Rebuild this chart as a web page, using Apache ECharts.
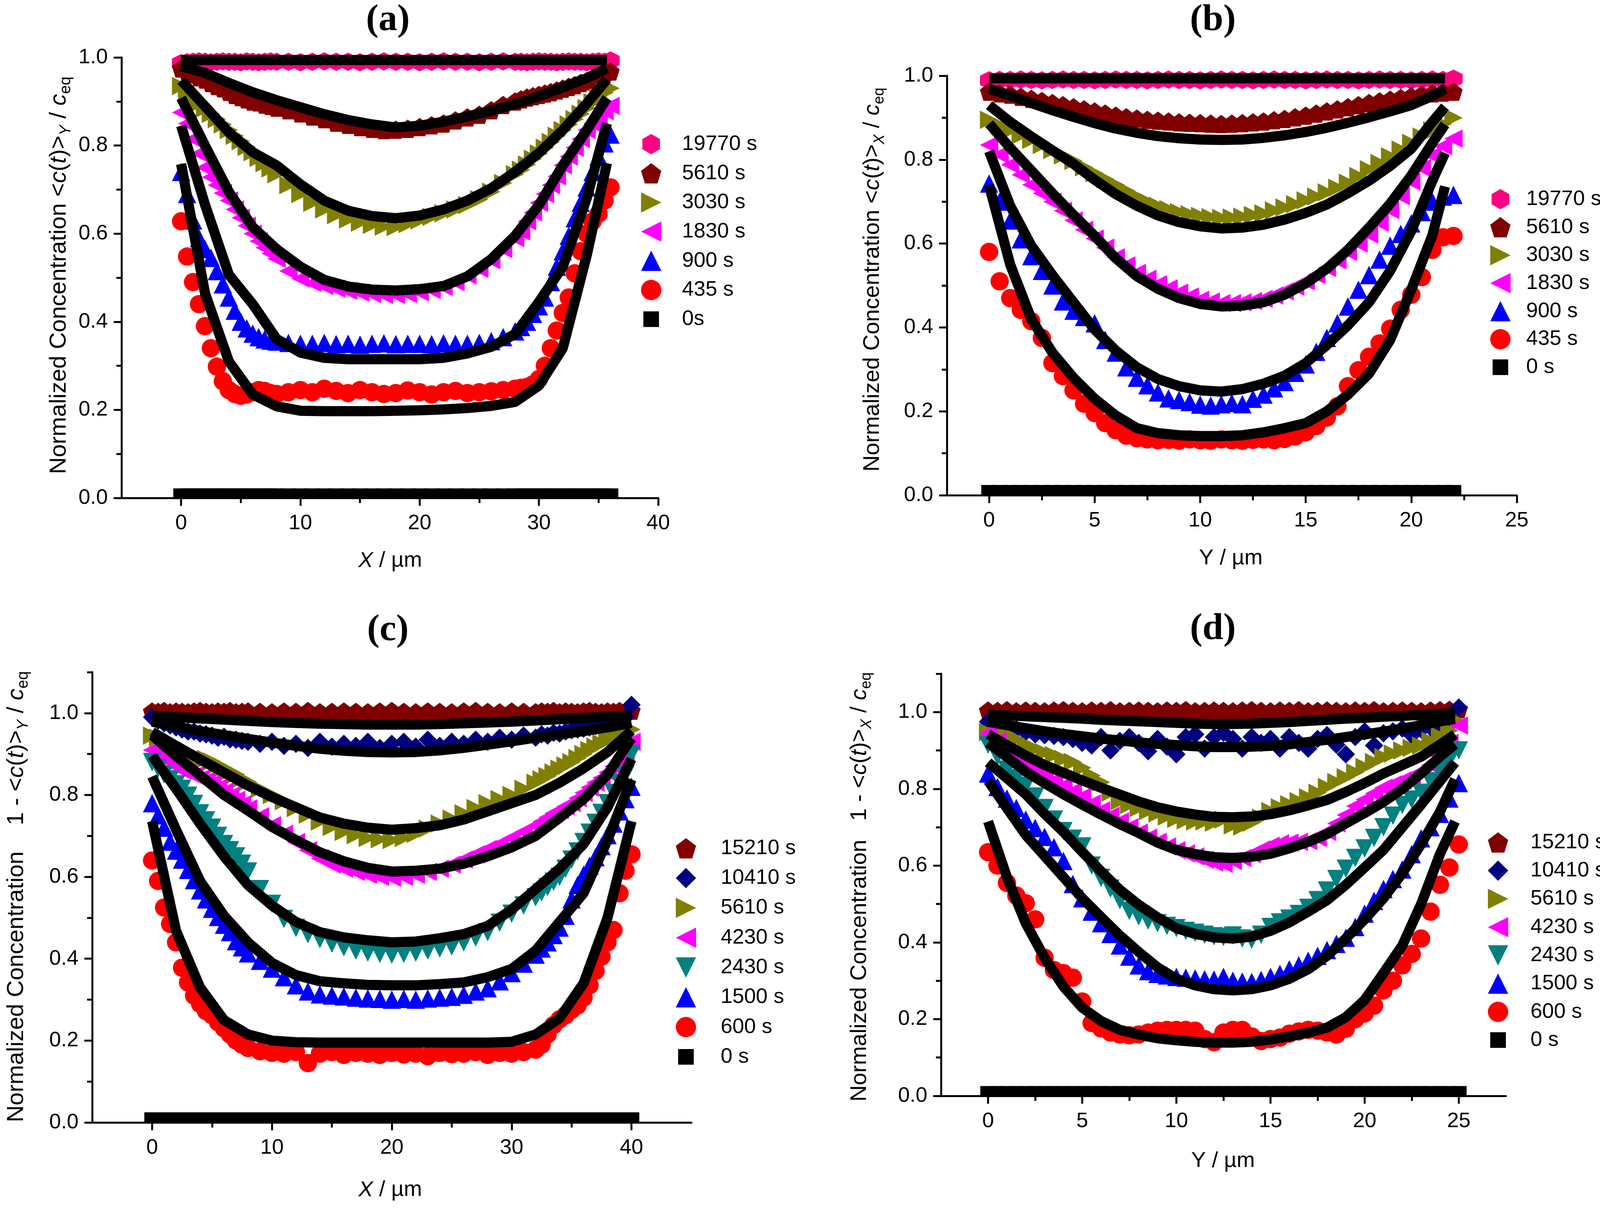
<!DOCTYPE html>
<html>
<head>
<meta charset="utf-8">
<script src="https://cdn.jsdelivr.net/npm/echarts@6/dist/echarts.min.js"></script>
<style>
html,body{margin:0;padding:0;background:#fff;overflow:hidden}
#main{width:4132px;height:3093px}
</style>
</head>
<body>
<div id="main"></div>
<script>
// ---- panel (a): profile along X, averaged over Y ----
const xsA = [0,0.5,1,1.5,2,2.5,3,3.5,4,4.5,5,5.5,6,6.5,7,7.5,8,
  9,10,11,12,13,14,15,16,17,18,19,20,21,22,23,24,25,26,27,
  28,28.5,29,29.5,30,30.5,31,31.5,32,32.5,33,33.5,34,34.5,35,35.5,36];
const a19770 = [0.987,0.989,0.99,0.991,0.99,0.989,0.99,0.991,0.99,0.99,0.989,0.991,0.99,0.989,0.99,0.991,0.99,
  0.99,0.989,0.99,0.991,0.99,0.99,0.989,0.99,0.991,0.99,0.99,0.989,0.99,0.991,0.99,0.99,0.989,0.99,0.991,
  0.99,0.99,0.989,0.99,0.991,0.99,0.99,0.989,0.99,0.991,0.99,0.99,0.989,0.99,0.991,0.99,0.993];
const a5610 = [0.975,0.968,0.962,0.955,0.95,0.942,0.935,0.93,0.922,0.915,0.91,0.905,0.9,0.898,0.893,0.89,0.886,
  0.88,0.873,0.866,0.86,0.852,0.847,0.842,0.838,0.835,0.836,0.838,0.842,0.846,0.85,0.857,0.864,0.87,0.88,0.892,
  0.9,0.905,0.909,0.912,0.915,0.918,0.921,0.925,0.929,0.933,0.937,0.942,0.946,0.951,0.956,0.962,0.968];
const a3030 = [0.935,0.922,0.91,0.896,0.884,0.872,0.86,0.848,0.835,0.822,0.81,0.797,0.785,0.772,0.76,0.748,0.735,
  0.71,0.69,0.67,0.655,0.642,0.632,0.625,0.62,0.616,0.615,0.622,0.63,0.638,0.646,0.655,0.665,0.678,0.695,0.715,
  0.735,0.745,0.757,0.77,0.782,0.795,0.808,0.822,0.835,0.848,0.86,0.872,0.885,0.898,0.91,0.92,0.93];
const a1830 = [0.875,0.85,0.815,0.782,0.75,0.728,0.71,0.692,0.675,0.655,0.636,0.618,0.6,0.583,0.568,0.555,0.543,
  0.515,0.498,0.488,0.481,0.475,0.47,0.466,0.463,0.461,0.461,0.463,0.467,0.472,0.479,0.49,0.505,0.52,0.54,0.565,
  0.59,0.605,0.628,0.648,0.67,0.69,0.71,0.73,0.755,0.775,0.795,0.815,0.835,0.85,0.865,0.878,0.89];
const a900 = [0.74,0.69,0.63,0.59,0.565,0.545,0.515,0.485,0.455,0.425,0.4,0.385,0.373,0.365,0.36,0.357,0.355,
  0.352,0.35,0.35,0.352,0.349,0.35,0.348,0.35,0.351,0.349,0.35,0.35,0.349,0.351,0.35,0.35,0.352,0.356,0.365,
  0.378,0.388,0.4,0.418,0.435,0.455,0.49,0.525,0.56,0.595,0.635,0.67,0.705,0.74,0.775,0.805,0.825];
const a435 = [0.628,0.548,0.49,0.44,0.39,0.34,0.298,0.265,0.245,0.236,0.232,0.235,0.24,0.245,0.243,0.238,0.236,
  0.24,0.245,0.24,0.248,0.243,0.238,0.245,0.24,0.236,0.238,0.244,0.24,0.235,0.24,0.243,0.238,0.24,0.242,0.245,
  0.248,0.25,0.252,0.258,0.27,0.3,0.34,0.38,0.42,0.455,0.51,0.56,0.6,0.628,0.645,0.675,0.705];
const a0 = [0.01,0.01,0.01,0.01,0.01,0.01,0.01,0.01,0.01,0.01,0.01,0.01,0.01,0.01,0.01,0.01,0.01,
  0.01,0.01,0.01,0.01,0.01,0.01,0.01,0.01,0.01,0.01,0.01,0.01,0.01,0.01,0.01,0.01,0.01,0.01,0.01,
  0.01,0.01,0.01,0.01,0.01,0.01,0.01,0.01,0.01,0.01,0.01,0.01,0.01,0.01,0.01,0.01,0.01];
const fitXA = [0,2,4,6,8,10,12,14,16,18,20,22,24,26,28,30,32,34,35.7];
const fA19770 = [0.994,0.994,0.994,0.994,0.994,0.994,0.994,0.994,0.994,0.994,0.994,0.994,0.994,0.994,0.994,0.994,0.994,0.994,0.994];
const fA5610 = [0.98,0.965,0.942,0.921,0.903,0.887,0.871,0.858,0.848,0.841,0.845,0.854,0.866,0.879,0.894,0.912,0.932,0.953,0.975];
const fA3030 = [0.948,0.889,0.83,0.785,0.755,0.712,0.675,0.652,0.64,0.635,0.641,0.655,0.675,0.703,0.74,0.783,0.835,0.895,0.95];
const fA1830 = [0.908,0.8,0.695,0.615,0.565,0.525,0.495,0.48,0.473,0.471,0.474,0.481,0.503,0.542,0.595,0.665,0.755,0.835,0.908];
const fA900 = [0.845,0.666,0.507,0.44,0.361,0.33,0.318,0.315,0.315,0.315,0.315,0.318,0.328,0.343,0.372,0.445,0.525,0.68,0.85];
const fA435 = [0.758,0.465,0.31,0.235,0.208,0.198,0.197,0.197,0.197,0.198,0.199,0.201,0.204,0.209,0.218,0.255,0.34,0.55,0.76];

// ---- panel (b): profile along Y, averaged over X ----
const xsB = [0,0.5,1,1.5,2,2.5,3,3.5,4,4.5,5,5.5,6,6.5,7,7.5,8,8.5,9,9.5,
  10,10.5,11,11.5,12,12.5,13,13.5,14,14.5,15,15.5,16,16.5,17,17.5,18,18.5,19,19.5,20,20.5,21,21.5,22];
const b19770 = [0.989,0.99,0.99,0.991,0.99,0.989,0.99,0.991,0.99,0.99,
  0.989,0.99,0.991,0.99,0.99,0.989,0.99,0.991,0.99,0.99,
  0.989,0.99,0.991,0.99,0.99,0.989,0.99,0.991,0.99,0.99,
  0.989,0.99,0.991,0.99,0.99,0.989,0.99,0.991,0.99,0.99,
  0.989,0.99,0.991,0.99,0.993];
const b5610 = [0.962,0.958,0.955,0.95,0.945,0.94,0.935,0.93,0.925,0.92,
  0.915,0.91,0.905,0.901,0.898,0.895,0.893,0.891,0.889,0.888,
  0.887,0.886,0.885,0.886,0.887,0.889,0.891,0.894,0.897,0.901,
  0.905,0.91,0.915,0.92,0.925,0.93,0.935,0.939,0.943,0.947,
  0.951,0.955,0.958,0.96,0.962];
const b3030 = [0.895,0.882,0.87,0.858,0.847,0.835,0.823,0.81,0.797,0.782,
  0.768,0.754,0.74,0.726,0.712,0.7,0.69,0.682,0.675,0.67,
  0.666,0.663,0.661,0.662,0.664,0.668,0.672,0.679,0.686,0.694,
  0.703,0.712,0.722,0.733,0.745,0.761,0.777,0.792,0.808,0.824,
  0.84,0.855,0.87,0.885,0.9];
const b1830 = [0.835,0.812,0.788,0.764,0.74,0.72,0.7,0.678,0.655,0.633,
  0.612,0.59,0.567,0.548,0.53,0.516,0.503,0.493,0.483,0.474,
  0.466,0.462,0.458,0.458,0.46,0.463,0.468,0.476,0.486,0.497,
  0.51,0.525,0.542,0.56,0.58,0.6,0.622,0.65,0.68,0.713,
  0.748,0.78,0.81,0.832,0.85];
const b900 = [0.743,0.7,0.655,0.61,0.57,0.535,0.5,0.462,0.44,0.425,
  0.41,0.37,0.34,0.305,0.28,0.262,0.245,0.231,0.227,0.222,
  0.216,0.214,0.217,0.22,0.217,0.23,0.24,0.255,0.27,0.292,
  0.312,0.342,0.375,0.41,0.45,0.49,0.525,0.562,0.595,0.623,
  0.648,0.675,0.7,0.712,0.716];
const b435 = [0.58,0.51,0.47,0.442,0.415,0.375,0.315,0.284,0.25,0.218,
  0.196,0.172,0.155,0.142,0.136,0.133,0.131,0.132,0.13,0.133,
  0.131,0.13,0.133,0.131,0.13,0.132,0.133,0.131,0.134,0.14,
  0.15,0.165,0.185,0.212,0.26,0.298,0.33,0.362,0.397,0.442,
  0.478,0.52,0.585,0.615,0.618];
const b0 = [0.012,0.012,0.012,0.012,0.012,0.012,0.012,0.012,0.012,0.012,
  0.012,0.012,0.012,0.012,0.012,0.012,0.012,0.012,0.012,0.012,
  0.012,0.012,0.012,0.012,0.012,0.012,0.012,0.012,0.012,0.012,
  0.012,0.012,0.012,0.012,0.012,0.012,0.012,0.012,0.012,0.012,
  0.012,0.012,0.012,0.012,0.012];
const fitXB = [0,1,2,3,4,5,6,7,8,9,10,11,12,13,14,15,16,17,18,19,20,21,21.6];
const fB19770 = [0.994,0.994,0.994,0.994,0.994,0.994,0.994,0.994,0.994,0.994,0.994,0.994,0.994,0.994,0.994,0.994,0.994,0.994,0.994,0.994,0.994,0.994,0.994];
const fB5610 = [0.969,0.953,0.935,0.918,0.902,0.887,0.874,0.864,0.856,0.851,0.848,0.847,0.848,0.852,0.858,0.866,0.876,0.888,0.901,0.915,0.93,0.952,0.969];
const fB3030 = [0.93,0.89,0.855,0.822,0.79,0.752,0.718,0.69,0.667,0.651,0.641,0.636,0.638,0.645,0.657,0.673,0.693,0.72,0.75,0.785,0.826,0.89,0.926];
const fB1830 = [0.886,0.828,0.774,0.72,0.668,0.618,0.565,0.522,0.492,0.47,0.456,0.45,0.452,0.46,0.478,0.505,0.54,0.585,0.638,0.695,0.762,0.84,0.884];
const fB900 = [0.82,0.69,0.595,0.525,0.46,0.395,0.345,0.305,0.277,0.26,0.25,0.247,0.253,0.266,0.285,0.315,0.358,0.405,0.46,0.535,0.63,0.75,0.816];
const fB435 = [0.739,0.55,0.42,0.34,0.28,0.23,0.19,0.16,0.148,0.143,0.141,0.141,0.143,0.15,0.16,0.172,0.2,0.24,0.29,0.37,0.49,0.62,0.736];

// ---- panel (c): 1 - profile along X ----
const xsC = [0,0.5,1,1.5,2,2.5,3,3.5,4,4.5,5,5.5,6,6.5,7,7.5,8,
  9,10,11,12,13,14,15,16,17,18,19,20,21,22,23,24,25,26,27,28,29,30,31,32,
  32.5,33,33.5,34,34.5,35,35.5,36,36.5,37,37.5,38,38.5,39,39.5,40];
const c15210 = [1.004,1.003,1.005,1.002,1.004,1.003,1.002,1.004,1.005,1.003,1.002,1.004,1.003,1.005,1.002,1.003,1.004,
  1.003,1.002,1.004,1.003,1.005,1.002,1.003,1.004,1.003,1.002,1.004,1.005,1.003,1.002,1.004,1.003,1.002,1.004,1.005,1.003,1.002,1.004,1.003,1.002,
  1.004,1.003,1.005,1.002,1.004,1.003,1.002,1.004,1.005,1.003,1.002,1.004,1.003,1.005,1.004,1.006];
const c10410 = [0.99,0.982,0.975,0.97,0.965,0.96,0.955,0.955,0.95,0.948,0.945,0.94,0.942,0.936,0.935,0.932,0.93,
  0.925,0.93,0.92,0.925,0.915,0.93,0.918,0.925,0.92,0.93,0.915,0.925,0.93,0.918,0.935,0.92,0.93,0.925,0.935,0.93,0.94,0.935,0.945,0.94,
  0.948,0.945,0.952,0.95,0.955,0.958,0.96,0.962,0.965,0.968,0.97,0.975,0.978,0.982,0.99,1.02];
const c5610 = [0.945,0.94,0.935,0.928,0.92,0.912,0.905,0.898,0.89,0.888,0.882,0.874,0.866,0.858,0.85,0.84,0.832,
  0.815,0.8,0.785,0.768,0.752,0.735,0.722,0.71,0.702,0.695,0.692,0.69,0.695,0.705,0.718,0.73,0.742,0.755,0.768,0.78,0.79,0.8,0.815,0.83,
  0.838,0.846,0.855,0.864,0.872,0.88,0.89,0.9,0.91,0.918,0.926,0.935,0.942,0.948,0.952,0.96];
const c4230 = [0.91,0.9,0.89,0.88,0.87,0.86,0.855,0.848,0.84,0.835,0.828,0.818,0.808,0.798,0.788,0.777,0.767,
  0.748,0.726,0.705,0.685,0.665,0.645,0.63,0.62,0.612,0.605,0.6,0.598,0.6,0.605,0.612,0.62,0.63,0.642,0.655,0.668,0.68,0.695,0.71,0.725,
  0.735,0.745,0.755,0.763,0.772,0.78,0.792,0.805,0.818,0.83,0.842,0.855,0.87,0.885,0.905,0.93];
const c2430 = [0.88,0.865,0.85,0.838,0.826,0.815,0.798,0.778,0.755,0.738,0.72,0.7,0.68,0.665,0.65,0.632,0.613,
  0.57,0.534,0.497,0.475,0.46,0.448,0.437,0.428,0.42,0.415,0.412,0.41,0.412,0.415,0.42,0.425,0.43,0.44,0.452,0.465,0.488,0.51,0.53,0.55,
  0.562,0.575,0.588,0.6,0.62,0.642,0.662,0.685,0.708,0.732,0.756,0.78,0.805,0.83,0.85,0.9];
const c1500 = [0.78,0.75,0.72,0.686,0.664,0.642,0.617,0.592,0.567,0.545,0.522,0.502,0.483,0.465,0.443,0.428,0.413,
  0.395,0.376,0.355,0.335,0.32,0.313,0.31,0.308,0.305,0.303,0.302,0.3,0.302,0.3,0.303,0.305,0.307,0.312,0.32,0.328,0.345,0.365,0.388,0.41,
  0.425,0.44,0.458,0.476,0.505,0.545,0.58,0.605,0.627,0.648,0.675,0.702,0.73,0.76,0.79,0.82];
const c600 = [0.64,0.59,0.525,0.485,0.44,0.378,0.342,0.31,0.29,0.272,0.262,0.245,0.23,0.215,0.2,0.19,0.182,
  0.174,0.17,0.168,0.172,0.145,0.168,0.172,0.165,0.17,0.168,0.165,0.17,0.166,0.168,0.162,0.17,0.167,0.168,0.172,0.165,0.17,0.168,0.172,0.178,
  0.19,0.215,0.238,0.252,0.262,0.275,0.286,0.305,0.335,0.37,0.405,0.44,0.47,0.56,0.615,0.655];
const c0 = [0.012,0.012,0.012,0.012,0.012,0.012,0.012,0.012,0.012,0.012,0.012,0.012,0.012,0.012,0.012,0.012,0.012,
  0.012,0.012,0.012,0.012,0.012,0.012,0.012,0.012,0.012,0.012,0.012,0.012,0.012,0.012,0.012,0.012,0.012,0.012,0.012,0.012,0.012,0.012,0.012,0.012,
  0.012,0.012,0.012,0.012,0.012,0.012,0.012,0.012,0.012,0.012,0.012,0.012,0.012,0.012,0.012,0.012];
const fitXC = [0,2,4,6,8,10,12,14,16,18,20,22,24,26,28,30,32,34,36,38,40];
const fC15210 = [0.993,0.99,0.987,0.984,0.981,0.978,0.976,0.974,0.973,0.972,0.972,0.972,0.973,0.975,0.977,0.979,0.982,0.985,0.988,0.991,0.994];
const fC10410 = [0.979,0.967,0.956,0.946,0.937,0.928,0.92,0.913,0.908,0.905,0.904,0.905,0.909,0.915,0.923,0.931,0.94,0.948,0.956,0.965,0.976];
const fC5610 = [0.954,0.92,0.887,0.855,0.823,0.795,0.77,0.745,0.73,0.72,0.715,0.719,0.726,0.74,0.76,0.78,0.8,0.83,0.865,0.905,0.957];
const fC4230 = [0.946,0.895,0.848,0.8,0.762,0.722,0.69,0.66,0.638,0.622,0.613,0.615,0.62,0.632,0.65,0.672,0.7,0.744,0.79,0.85,0.939];
const fC2430 = [0.896,0.815,0.73,0.65,0.58,0.53,0.49,0.465,0.452,0.445,0.44,0.442,0.45,0.46,0.48,0.52,0.57,0.62,0.68,0.77,0.888];
const fC1500 = [0.845,0.715,0.59,0.505,0.44,0.39,0.36,0.345,0.34,0.336,0.335,0.335,0.338,0.342,0.355,0.375,0.42,0.49,0.56,0.69,0.838];
const fC600 = [0.736,0.468,0.33,0.25,0.215,0.2,0.196,0.195,0.195,0.195,0.195,0.195,0.195,0.195,0.195,0.197,0.215,0.255,0.34,0.5,0.736];

// ---- panel (d): 1 - profile along Y ----
const xsD = [0,0.5,1,1.5,2,2.5,3,3.5,4,4.5,5,5.5,6,6.5,7,7.5,8,8.5,9,9.5,
  10,10.5,11,11.5,12,12.5,13,13.5,14,14.5,15,15.5,16,16.5,17,17.5,18,18.5,19,19.5,
  20,20.5,21,21.5,22,22.5,23,23.5,24,24.5,25];
const d15210 = [1.004,1.003,1.005,1.002,1.004,1.003,1.002,1.004,1.005,1.003,
  1.002,1.004,1.003,1.005,1.002,1.003,1.004,1.003,1.002,1.004,
  1.003,1.005,1.002,1.003,1.004,1.003,1.002,1.004,1.005,1.003,
  1.002,1.004,1.003,1.005,1.002,1.003,1.004,1.003,1.002,1.004,
  1.003,1.005,1.002,1.003,1.004,1.003,1.002,1.004,1.005,1.006,1.008];
const d10410 = [0.975,0.965,0.958,0.955,0.948,0.942,0.94,0.938,0.935,0.93,
  0.92,0.913,0.935,0.9,0.925,0.935,0.92,0.898,0.93,0.91,
  0.89,0.935,0.942,0.905,0.935,0.946,0.93,0.905,0.935,0.92,
  0.93,0.905,0.935,0.92,0.905,0.93,0.94,0.915,0.89,0.935,
  0.95,0.913,0.945,0.95,0.957,0.94,0.955,0.96,0.962,0.968,1.012];
const d5610 = [0.948,0.946,0.943,0.93,0.915,0.905,0.895,0.888,0.878,0.87,
  0.855,0.835,0.817,0.79,0.768,0.758,0.75,0.742,0.736,0.728,
  0.722,0.718,0.715,0.715,0.712,0.72,0.705,0.702,0.712,0.725,
  0.742,0.752,0.76,0.768,0.778,0.79,0.805,0.818,0.83,0.843,
  0.857,0.87,0.883,0.892,0.9,0.907,0.913,0.925,0.938,0.952,0.975];
const d4230 = [0.945,0.925,0.9,0.88,0.862,0.848,0.835,0.822,0.808,0.794,
  0.78,0.762,0.744,0.73,0.715,0.7,0.686,0.673,0.662,0.65,
  0.64,0.632,0.624,0.615,0.608,0.605,0.612,0.62,0.63,0.642,
  0.652,0.658,0.66,0.662,0.664,0.672,0.688,0.71,0.732,0.755,
  0.772,0.788,0.803,0.812,0.822,0.832,0.845,0.862,0.885,0.92,0.965];
const d2430 = [0.915,0.885,0.85,0.828,0.808,0.78,0.75,0.72,0.69,0.67,
  0.65,0.6,0.568,0.54,0.51,0.482,0.468,0.457,0.45,0.443,
  0.437,0.43,0.425,0.42,0.416,0.414,0.418,0.41,0.407,0.42,
  0.44,0.452,0.462,0.474,0.49,0.51,0.535,0.565,0.592,0.62,
  0.645,0.672,0.7,0.73,0.758,0.772,0.79,0.82,0.85,0.875,0.9];
const d1500 = [0.84,0.805,0.775,0.75,0.72,0.698,0.675,0.648,0.612,0.552,
  0.515,0.48,0.45,0.422,0.392,0.363,0.34,0.325,0.318,0.314,
  0.31,0.308,0.306,0.304,0.303,0.31,0.3,0.298,0.297,0.302,
  0.31,0.318,0.33,0.34,0.352,0.365,0.38,0.396,0.412,0.44,
  0.475,0.508,0.539,0.565,0.59,0.63,0.671,0.7,0.735,0.775,0.815];
const d600 = [0.635,0.6,0.555,0.522,0.502,0.46,0.36,0.328,0.32,0.308,
  0.246,0.19,0.176,0.165,0.16,0.158,0.16,0.165,0.17,0.172,
  0.172,0.172,0.17,0.148,0.14,0.165,0.172,0.172,0.155,0.143,
  0.148,0.152,0.162,0.168,0.172,0.17,0.165,0.16,0.175,0.2,
  0.215,0.235,0.275,0.3,0.34,0.37,0.41,0.48,0.55,0.595,0.655];
const d0 = [0.012,0.012,0.012,0.012,0.012,0.012,0.012,0.012,0.012,0.012,
  0.012,0.012,0.012,0.012,0.012,0.012,0.012,0.012,0.012,0.012,
  0.012,0.012,0.012,0.012,0.012,0.012,0.012,0.012,0.012,0.012,
  0.012,0.012,0.012,0.012,0.012,0.012,0.012,0.012,0.012,0.012,
  0.012,0.012,0.012,0.012,0.012,0.012,0.012,0.012,0.012,0.012,0.012];
const fitXD = [0,1,2,3,4,5,6,7,8,9,10,11,12,13,14,15,16,17,18,19,20,21,22,23,24,24.8];
const fD15210 = [0.993,0.991,0.989,0.987,0.985,0.983,0.98,0.978,0.976,0.974,0.972,0.97,0.969,0.969,0.97,0.972,0.974,0.977,0.98,0.983,0.985,0.988,0.99,0.993,0.995,0.997];
const fD10410 = [0.975,0.966,0.958,0.95,0.943,0.937,0.931,0.926,0.921,0.917,0.914,0.911,0.909,0.909,0.91,0.912,0.916,0.922,0.928,0.935,0.942,0.949,0.957,0.966,0.976,0.982];
const fD5610 = [0.942,0.914,0.887,0.862,0.842,0.822,0.803,0.785,0.767,0.752,0.741,0.733,0.727,0.726,0.728,0.734,0.744,0.757,0.771,0.792,0.815,0.84,0.862,0.884,0.915,0.942];
const fD4230 = [0.92,0.883,0.845,0.815,0.786,0.759,0.733,0.708,0.685,0.66,0.641,0.63,0.622,0.62,0.623,0.631,0.645,0.662,0.682,0.71,0.737,0.766,0.8,0.84,0.884,0.916];
const fD2430 = [0.869,0.828,0.786,0.735,0.688,0.636,0.585,0.537,0.498,0.465,0.437,0.422,0.413,0.41,0.415,0.43,0.452,0.48,0.51,0.55,0.595,0.641,0.7,0.759,0.82,0.869];
const fD1500 = [0.821,0.75,0.68,0.625,0.57,0.515,0.466,0.418,0.375,0.335,0.305,0.288,0.278,0.275,0.278,0.288,0.305,0.33,0.365,0.41,0.46,0.515,0.58,0.656,0.74,0.825];
const fD600 = [0.715,0.57,0.45,0.36,0.285,0.23,0.195,0.172,0.16,0.15,0.145,0.141,0.139,0.139,0.141,0.147,0.155,0.165,0.178,0.205,0.25,0.32,0.392,0.5,0.63,0.715];

// tick positions
const ticksX40 = [0,10,20,30,40], minorX40 = [5,15,25,35];
const ticksX25 = [0,5,10,15,20,25], minorX25 = [2.5,7.5,12.5,17.5,22.5];
const ticksY = [0,0.2,0.4,0.6,0.8,1.0];
const minorY10 = [0.1,0.3,0.5,0.7,0.9], minorY11 = [0.1,0.3,0.5,0.7,0.9,1.1];

const FONT = '"Liberation Sans", Arial, sans-serif';
const sym = {
    hexagon: 'path://M5 0L9.33 2.5L9.33 7.5L5 10L0.67 7.5L0.67 2.5Z',
    pentagon: 'path://M5 0L10 3.8L8.1 10L1.9 10L0 3.8Z',
    right: 'path://M0 0L10 5L0 10Z',
    left: 'path://M10 0L0 5L10 10Z',
    up: 'path://M5 0L10 10L0 10Z',
    down: 'path://M0 0L10 0L5 10Z',
    diamond: 'path://M5 0L10 5L5 10L0 5Z',
    circle: 'circle',
    bar: 'path://M0 0L30 0L30 20L0 20Z'
};
// unit outlines of the same markers, used for the legend keys
const outline = {
    hexagon: [[0,-0.5],[0.433,-0.25],[0.433,0.25],[0,0.5],[-0.433,0.25],[-0.433,-0.25]],
    pentagon: [[0,-0.5],[0.5,-0.12],[0.31,0.5],[-0.31,0.5],[-0.5,-0.12]],
    right: [[-0.5,-0.5],[0.5,0],[-0.5,0.5]],
    left: [[0.5,-0.5],[-0.5,0],[0.5,0.5]],
    up: [[0,-0.5],[0.5,0.5],[-0.5,0.5]],
    down: [[-0.5,-0.5],[0.5,-0.5],[0,0.5]],
    diamond: [[0,-0.5],[0.5,0],[0,0.5],[-0.5,0]]
};

const panels = [
    { id: 'a', grid: {left: 311, top: 147, width: 1374, height: 1128},
      xMin: -5, xMax: 40, xMajor: ticksX40, xMinor: minorX40, yMax: 1.0, yMinor: minorY10,
      xs: xsA, fitX: fitXA, zeroName: '0s', zero: a0,
      key: {x: 1667, y: 369, step: 74.7, tx: 1746},
      sets: [
          {name: '19770 s', sym: 'hexagon', color: '#FF0080', y: a19770, fit: fA19770},
          {name: '5610 s', sym: 'pentagon', color: '#800000', y: a5610, fit: fA5610},
          {name: '3030 s', sym: 'right', color: '#808000', y: a3030, fit: fA3030},
          {name: '1830 s', sym: 'left', color: '#FF00FF', y: a1830, fit: fA1830},
          {name: '900 s', sym: 'up', color: '#0000FF', y: a900, fit: fA900},
          {name: '435 s', sym: 'circle', color: '#FF0000', y: a435, fit: fA435}
      ] },
    { id: 'b', grid: {left: 2424, top: 194, width: 1459, height: 1074},
      xMin: -2, xMax: 25, xMajor: ticksX25, xMinor: minorX25, yMax: 1.0, yMinor: minorY10,
      xs: xsB, fitX: fitXB, zeroName: '0 s', zero: b0,
      key: {x: 3841, y: 510, step: 71.7, tx: 3907},
      sets: [
          {name: '19770 s', sym: 'hexagon', color: '#FF0080', y: b19770, fit: fB19770},
          {name: '5610 s', sym: 'pentagon', color: '#800000', y: b5610, fit: fB5610},
          {name: '3030 s', sym: 'right', color: '#808000', y: b3030, fit: fB3030},
          {name: '1830 s', sym: 'left', color: '#FF00FF', y: b1830, fit: fB1830},
          {name: '900 s', sym: 'up', color: '#0000FF', y: b900, fit: fB900},
          {name: '435 s', sym: 'circle', color: '#FF0000', y: b435, fit: fB435}
      ] },
    { id: 'c', grid: {left: 236, top: 1721, width: 1534, height: 1153},
      xMin: -5, xMax: 45, xMajor: ticksX40, xMinor: minorX40, yMax: 1.1, yMinor: minorY11,
      xs: xsC, fitX: fitXC, zeroName: '0 s', zero: c0,
      key: {x: 1756, y: 2172, step: 76.3, tx: 1845},
      sets: [
          {name: '15210 s', sym: 'pentagon', color: '#800000', y: c15210, fit: fC15210},
          {name: '10410 s', sym: 'diamond', color: '#000080', y: c10410, fit: fC10410},
          {name: '5610 s', sym: 'right', color: '#808000', y: c5610, fit: fC5610},
          {name: '4230 s', sym: 'left', color: '#FF00FF', y: c4230, fit: fC4230},
          {name: '2430 s', sym: 'down', color: '#008080', y: c2430, fit: fC2430},
          {name: '1500 s', sym: 'up', color: '#0000FF', y: c1500, fit: fC1500},
          {name: '600 s', sym: 'circle', color: '#FF0000', y: c600, fit: fC600}
      ] },
    { id: 'd', grid: {left: 2409, top: 1725, width: 1446, height: 1081},
      xMin: -2.5, xMax: 27.5, xMajor: ticksX25, xMinor: minorX25, yMax: 1.1, yMinor: minorY11,
      xs: xsD, fitX: fitXD, zeroName: '0 s', zero: d0,
      key: {x: 3835, y: 2157, step: 72.3, tx: 3918},
      sets: [
          {name: '15210 s', sym: 'pentagon', color: '#800000', y: d15210, fit: fD15210},
          {name: '10410 s', sym: 'diamond', color: '#000080', y: d10410, fit: fD10410},
          {name: '5610 s', sym: 'right', color: '#808000', y: d5610, fit: fD5610},
          {name: '4230 s', sym: 'left', color: '#FF00FF', y: d4230, fit: fD4230},
          {name: '2430 s', sym: 'down', color: '#008080', y: d2430, fit: fD2430},
          {name: '1500 s', sym: 'up', color: '#0000FF', y: d1500, fit: fD1500},
          {name: '600 s', sym: 'circle', color: '#FF0000', y: d600, fit: fD600}
      ] }
];

function pts(xs, ys) {
    return xs.map(function (x, i) { return [x, ys[i]]; });
}

function mainAxis(dim, gi, min, max, major) {
    return {
        type: 'value', gridIndex: gi, min: min, max: max,
        position: dim === 'x' ? 'bottom' : 'left',
        axisLine: {show: true, onZero: false, lineStyle: {color: '#000', width: 5}},
        axisTick: {show: true, inside: false, customValues: major, length: 20, lineStyle: {color: '#000', width: 5}},
        axisLabel: {
            show: true, customValues: major, margin: dim === 'x' ? 38 : 35,
            fontSize: 54, fontFamily: FONT, color: '#000',
            formatter: dim === 'x' ? function (v) { return String(v); } : function (v) { return v.toFixed(1); }
        },
        splitLine: {show: false}
    };
}
function minorAxis(dim, gi, min, max, minor) {
    return {
        type: 'value', gridIndex: gi, min: min, max: max,
        position: dim === 'x' ? 'bottom' : 'left',
        axisLine: {show: false, onZero: false},
        axisTick: {show: true, inside: false, customValues: minor, length: 13, lineStyle: {color: '#000', width: 5}},
        axisLabel: {show: false},
        splitLine: {show: false}
    };
}

// legend key marker drawn as a graphic element
function keyMarker(shape, color, cx, cy, size) {
    if (shape === 'circle') {
        return {type: 'circle', silent: true, shape: {cx: cx, cy: cy, r: size / 2}, style: {fill: color}};
    }
    if (shape === 'square') {
        return {type: 'rect', silent: true, shape: {x: cx - 20, y: cy - 20, width: 40, height: 40}, style: {fill: color}};
    }
    return {type: 'polygon', silent: true,
        shape: {points: outline[shape].map(function (q) { return [cx + q[0] * size, cy + q[1] * size]; })},
        style: {fill: color}};
}
function keyText(text, x, y) {
    return {type: 'text', silent: true, x: x, y: y,
        style: {text: text, font: '54px ' + FONT, fill: '#000', align: 'left', verticalAlign: 'middle'}};
}

const grid = [], xAxis = [], yAxis = [], series = [], graphic = [];
panels.forEach(function (p, k) {
    grid.push(Object.assign({show: false}, p.grid));
    const xi = xAxis.length, yi = yAxis.length;
    xAxis.push(mainAxis('x', k, p.xMin, p.xMax, p.xMajor), minorAxis('x', k, p.xMin, p.xMax, p.xMinor));
    yAxis.push(mainAxis('y', k, 0, p.yMax, ticksY), minorAxis('y', k, 0, p.yMax, p.yMinor));
    p.sets.forEach(function (s) {
        series.push({
            type: 'scatter', name: s.name, xAxisIndex: xi, yAxisIndex: yi,
            symbol: sym[s.sym], symbolSize: 47, silent: true, z: 2,
            itemStyle: {color: s.color, opacity: 1, borderWidth: 0},
            data: pts(p.xs, s.y)
        });
    });
    // initial state: row of black squares along the bottom
    series.push({
        type: 'scatter', name: p.zeroName, xAxisIndex: xi, yAxisIndex: yi,
        symbol: sym.bar, symbolSize: 40, symbolKeepAspect: true, silent: true, z: 2,
        itemStyle: {color: '#000', opacity: 1, borderWidth: 0},
        data: pts(p.xs, p.zero)
    });
    // fitted curves on top of the measured points
    p.sets.forEach(function (s) {
        series.push({
            type: 'line', name: 'fit ' + p.id + ' ' + s.name, xAxisIndex: xi, yAxisIndex: yi,
            symbol: 'none', silent: true, z: 3,
            lineStyle: {color: '#000', width: 26},
            itemStyle: {color: '#000'},
            data: pts(p.fitX, s.fit)
        });
    });
    // legend keys
    const ky = p.key;
    p.sets.forEach(function (s, i) {
        const cy = ky.y + i * ky.step;
        graphic.push(keyMarker(s.sym, s.color, ky.x, cy, 52), keyText(s.name, ky.tx, cy));
    });
    const zy = ky.y + p.sets.length * ky.step;
    graphic.push(keyMarker('square', '#000', ky.x, zy, 40), keyText(p.zeroName, ky.tx, zy));
});

// titles and axis names
const titles = [
    {t: '(a)', x: 993, y: 52}, {t: '(b)', x: 3105, y: 52},
    {t: '(c)', x: 993, y: 1614}, {t: '(d)', x: 3105, y: 1611}
];
const yNames = [
    {x: 151, y: 705, fs: 60, pre: 'Normalized Concentration <', sub: 'Y'},
    {x: 2234, y: 716, fs: 58, pre: 'Normalized Concentration <', sub: 'X'},
    {x: 42, y: 2296, fs: 60, pre: 'Normalized Concentration    1 - <', sub: 'Y'},
    {x: 2201, y: 2271, fs: 58, pre: 'Normalized Concentration   1 - <', sub: 'X'}
];
const xNames = [
    {x: 999, y: 1436, v: 'X', it: true}, {x: 3151, y: 1430, v: 'Y', it: false},
    {x: 999, y: 3047, v: 'X', it: true}, {x: 3131, y: 2973, v: 'Y', it: false}
];

titles.forEach(function (t) {
    graphic.push({type: 'text', x: t.x, y: t.y, silent: true,
        style: {text: t.t, font: 'bold 96px "Liberation Serif", "Times New Roman", serif', fill: '#000', align: 'center', verticalAlign: 'middle'}});
});
yNames.forEach(function (n) {
    const fs = n.fs, sfs = Math.round(fs * 0.66);
    graphic.push({type: 'text', x: n.x, y: n.y, rotation: Math.PI / 2, silent: true,
        style: {
            text: '{n|' + n.pre + '}{i|c}{n|(}{i|t}{n|)>}{si|' + n.sub + '}{n| / }{i|c}{s|eq}',
            font: fs + 'px ' + FONT, fill: '#000', align: 'center', verticalAlign: 'middle',
            rich: {
                n: {font: fs + 'px ' + FONT, fill: '#000'},
                i: {font: 'italic ' + fs + 'px ' + FONT, fill: '#000'},
                si: {font: 'italic ' + sfs + 'px ' + FONT, fill: '#000', padding: [36, 0, 0, 0]},
                s: {font: sfs + 'px ' + FONT, fill: '#000', padding: [36, 0, 0, 0]}
            }
        }});
});
xNames.forEach(function (n) {
    graphic.push({type: 'text', x: n.x, y: n.y, silent: true,
        style: {
            text: '{v|' + n.v + '}{n| / µm}',
            font: '56px ' + FONT, fill: '#000', align: 'center', verticalAlign: 'middle',
            rich: {
                v: {font: (n.it ? 'italic ' : '') + '56px ' + FONT, fill: '#000'},
                n: {font: '56px ' + FONT, fill: '#000'}
            }
        }});
});

const myChart = echarts.init(document.getElementById('main'));
myChart.setOption({
    animation: false,
    backgroundColor: '#fff',
    grid: grid,
    xAxis: xAxis,
    yAxis: yAxis,
    graphic: graphic,
    series: series
});
</script>
</body>
</html>
